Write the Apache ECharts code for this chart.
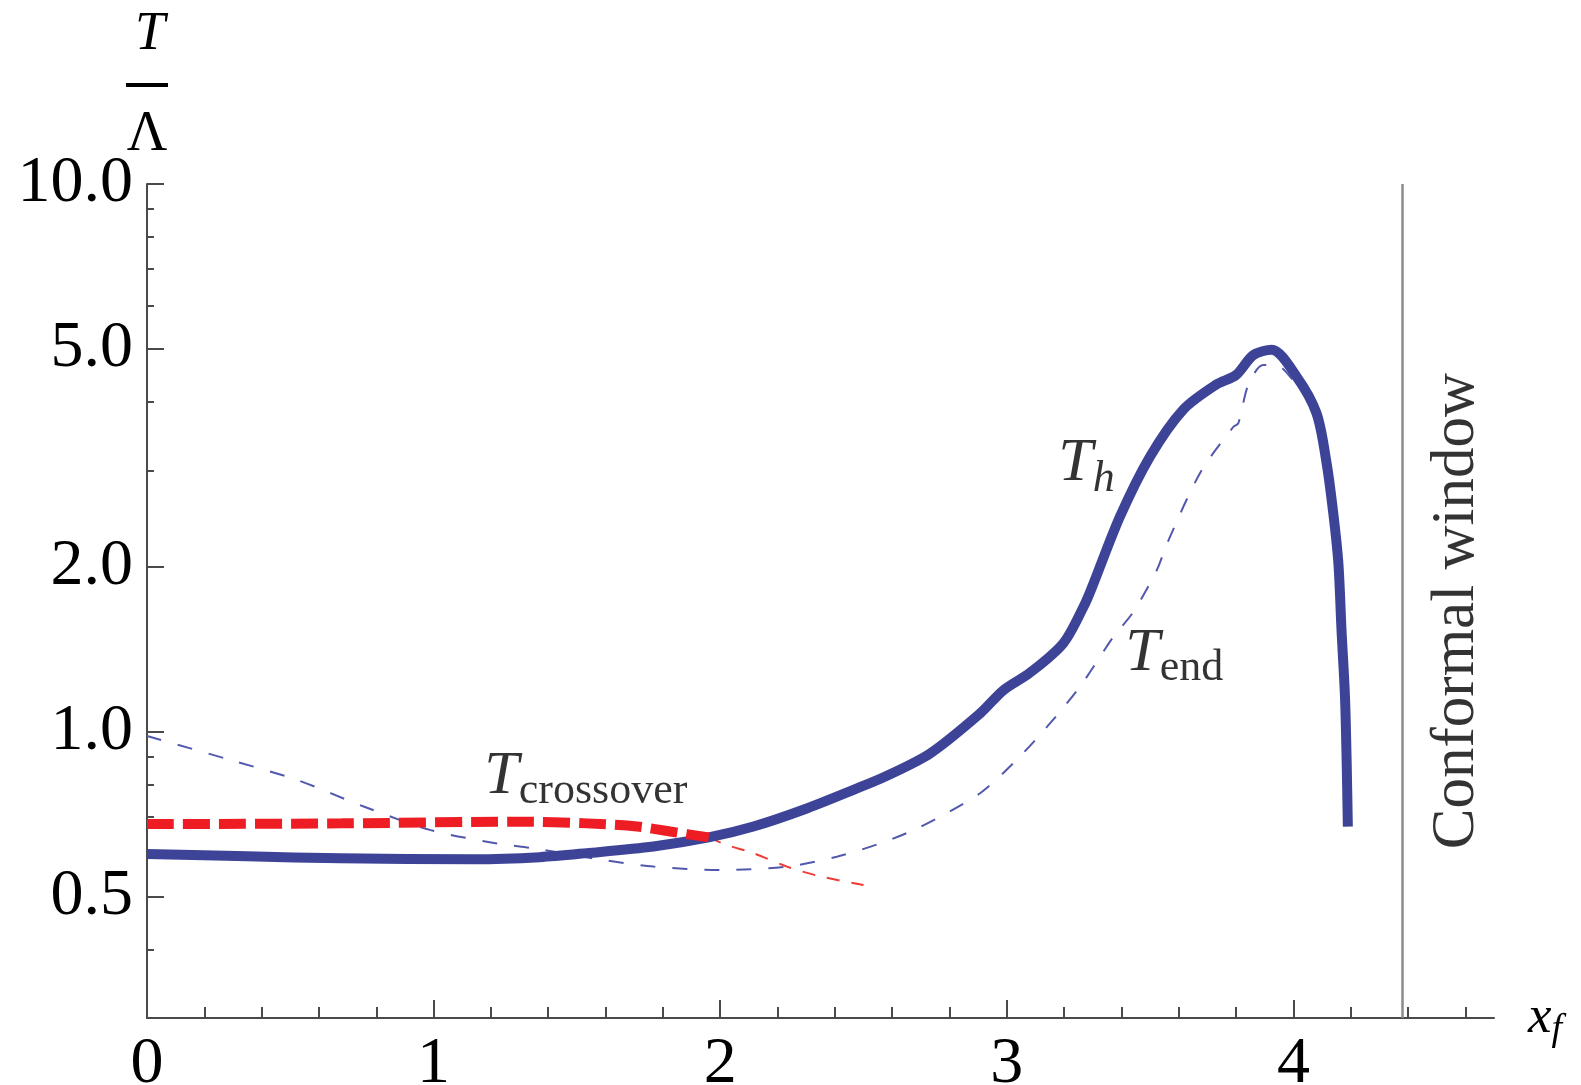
<!DOCTYPE html>
<html>
<head>
<meta charset="utf-8">
<script src="https://cdn.jsdelivr.net/npm/echarts@6/dist/echarts.min.js"></script>
<style>
html,body{margin:0;padding:0;background:#fff;}
#chart{width:1581px;height:1085px;}
</style>
</head>
<body>
<div id="chart"></div>
<script>
// ---- data ----
const xMajorTicks = [0, 1, 2, 3, 4];
const xMinorTicks = [0.2,0.4,0.6,0.8,1.2,1.4,1.6,1.8,2.2,2.4,2.6,2.8,3.2,3.4,3.6,3.8,4.2,4.4,4.6];
const yMajorTicks = [0.5, 1, 2, 5, 10];
const yMinorTicks = [0.4, 0.6, 0.7, 0.8, 0.9, 3, 4, 6, 7, 8, 9];

// T_h (thick solid blue)
const thX = [0, 0.35, 0.675, 1.14, 1.37, 1.535, 1.767, 1.96, 2.116, 2.29, 2.465, 2.58, 2.733, 2.907, 2.988, 3.08, 3.197, 3.27, 3.30, 3.395, 3.50, 3.615, 3.73, 3.80, 3.86, 3.924, 4.011, 4.081, 4.116, 4.139, 4.157, 4.168, 4.18, 4.186, 4.19];
const thY = [0.598, 0.592, 0.587, 0.585, 0.590, 0.600, 0.617, 0.641, 0.671, 0.72, 0.783, 0.83, 0.913, 1.08, 1.19, 1.28, 1.45, 1.70, 1.85, 2.47, 3.18, 3.87, 4.30, 4.48, 4.87, 4.98, 4.45, 3.81, 3.09, 2.51, 2.03, 1.53, 1.16, 0.876, 0.671];

// T_end (thin dashed blue)
const endX = [0, 0.29, 0.524, 0.756, 0.99, 1.221, 1.35, 1.593, 1.767, 2.0, 2.233, 2.407, 2.558, 2.674, 2.79, 2.907, 3.023, 3.14, 3.256, 3.372, 3.44, 3.523, 3.56, 3.675, 3.79, 3.808, 3.843, 3.895, 3.94, 3.988, 4.06, 4.10, 4.13];
const endY = [0.982, 0.888, 0.816, 0.730, 0.661, 0.625, 0.612, 0.583, 0.567, 0.559, 0.567, 0.591, 0.625, 0.661, 0.71, 0.772, 0.876, 1.02, 1.21, 1.49, 1.65, 1.97, 2.21, 2.97, 3.60, 3.66, 4.30, 4.67, 4.67, 4.45, 3.95, 3.30, 2.60];

// T_crossover (thick dashed red, then thin dashed red)
const crossThickX = [0, 0.68, 1.30, 1.535, 1.71, 1.826, 1.96];
const crossThickY = [0.678, 0.680, 0.685, 0.680, 0.671, 0.657, 0.641];
const crossThinX = [1.96, 2.023, 2.116, 2.233, 2.35, 2.50];
const crossThinY = [0.641, 0.621, 0.600, 0.567, 0.544, 0.525];

const conformalEdge = 4.38;

// ---- helpers ----
const zip = (xs, ys) => xs.map((x, i) => [x, ys[i]]);
const SERIF = "'Liberation Serif', 'Times New Roman', serif";
const AXIS_COLOR = '#4a4a4a';

const chart = echarts.init(document.getElementById('chart'), null, {renderer: 'canvas'});

const gridBox = {left: 147, right: 87, top: 184, bottom: 67};

const option = {
  backgroundColor: '#fff',
  animation: false,
  grid: Object.assign({containLabel: false, outerBoundsMode: 'none'}, gridBox),
  xAxis: [
    {
      type: 'value', min: 0, max: 4.7, position: 'bottom',
      name: '{x|x}{f|f}', nameLocation: 'end', nameGap: 34, nameMoveOverlap: false,
      nameTextStyle: {
        verticalAlign: 'middle', align: 'left',
        rich: {
          x: {fontFamily: SERIF, fontStyle: 'italic', fontSize: 53, lineHeight: 62, color: '#000'},
          f: {fontFamily: SERIF, fontStyle: 'italic', fontSize: 38, lineHeight: 36, verticalAlign: 'bottom', color: '#000'}
        }
      },
      axisLine: {show: true, onZero: false, lineStyle: {color: AXIS_COLOR, width: 2}},
      axisTick: {show: true, inside: true, length: 18, lineStyle: {color: AXIS_COLOR, width: 2}, customValues: xMajorTicks},
      axisLabel: {show: true, customValues: xMajorTicks, margin: 14, fontFamily: SERIF, fontSize: 66, color: '#000',
        formatter: v => String(Math.round(v))},
      splitLine: {show: false}
    },
    {
      type: 'value', min: 0, max: 4.7, position: 'bottom', offset: 0,
      axisLine: {show: false},
      axisTick: {show: true, inside: true, length: 11, lineStyle: {color: AXIS_COLOR, width: 2}, customValues: xMinorTicks},
      axisLabel: {show: false},
      splitLine: {show: false}
    }
  ],
  yAxis: [
    {
      type: 'log', logBase: 10, min: 0.3, max: 10, position: 'left',
      name: '{t|T}\n{b| }\n{l|Λ}', nameLocation: 'end', nameGap: 24, nameMoveOverlap: false,
      nameTextStyle: {
        align: 'center', verticalAlign: 'bottom',
        rich: {
          t: {fontFamily: SERIF, fontStyle: 'italic', fontSize: 54, lineHeight: 50, color: '#000', padding: [0, 0, 0, 6]},
          b: {width: 42, height: 4, lineHeight: 50, backgroundColor: '#000', fontSize: 4},
          l: {fontFamily: SERIF, fontSize: 56, lineHeight: 50, color: '#000'}
        }
      },
      axisLine: {show: true, onZero: false, lineStyle: {color: AXIS_COLOR, width: 2}},
      axisTick: {show: true, inside: true, length: 17, lineStyle: {color: AXIS_COLOR, width: 2}, customValues: yMajorTicks},
      axisLabel: {show: true, customValues: yMajorTicks, margin: 14, fontFamily: SERIF, fontSize: 66, color: '#000',
        padding: [0, 0, 14, 0],
        formatter: v => Number(v).toFixed(1)},
      splitLine: {show: false}
    },
    {
      type: 'log', logBase: 10, min: 0.3, max: 10, position: 'left', offset: 0,
      axisLine: {show: false},
      axisTick: {show: true, inside: true, length: 7, lineStyle: {color: AXIS_COLOR, width: 2}, customValues: yMinorTicks},
      axisLabel: {show: false},
      splitLine: {show: false}
    }
  ],
  series: [
    {
      name: 'T_end', type: 'line', xAxisIndex: 0, yAxisIndex: 0,
      data: zip(endX, endY), showSymbol: false, smooth: 0.3,
      lineStyle: {color: '#5259ad', width: 2, type: [15, 17]},
      z: 2
    },
    {
      name: 'T_crossover_thin', type: 'line', xAxisIndex: 0, yAxisIndex: 0,
      data: zip(crossThinX, crossThinY), showSymbol: false, smooth: 0.3,
      lineStyle: {color: '#ef3b36', width: 2, type: [13, 12]},
      z: 2
    },
    {
      name: 'T_h', type: 'line', xAxisIndex: 0, yAxisIndex: 0,
      data: zip(thX, thY), showSymbol: false, smooth: 0.3,
      lineStyle: {color: '#3d4497', width: 10, cap: 'butt', join: 'round'},
      z: 3,
      markLine: {
        silent: true, symbol: ['none', 'none'],
        label: {show: false},
        lineStyle: {color: '#8c8c8c', width: 2.5, type: 'solid'},
        data: [{xAxis: conformalEdge}]
      }
    },
    {
      name: 'T_crossover', type: 'line', xAxisIndex: 0, yAxisIndex: 0,
      data: zip(crossThickX, crossThickY), showSymbol: false, smooth: 0.3,
      lineStyle: {color: '#ee1d23', width: 10, type: [27, 9], cap: 'butt'},
      z: 4
    },
    {
      name: 'labels', type: 'scatter', xAxisIndex: 0, yAxisIndex: 0,
      symbolSize: 0, silent: true, z: 5,
      data: [
        {value: [3.18, 3.08], label: {formatter: '{T|T}{s|h}'}},
        {value: [3.413, 1.39], label: {formatter: '{T|T}{u|end}'}},
        {value: [1.177, 0.829], label: {formatter: '{T|T}{u|crossover}'}}
      ],
      label: {
        show: true, position: 'right', distance: 0, align: 'left', verticalAlign: 'middle',
        rich: {
          T: {fontFamily: SERIF, fontStyle: 'italic', fontSize: 62, lineHeight: 74, color: '#000'},
          s: {fontFamily: SERIF, fontStyle: 'italic', fontSize: 44, lineHeight: 44, verticalAlign: 'bottom', color: '#000'},
          u: {fontFamily: SERIF, fontSize: 44, lineHeight: 44, verticalAlign: 'bottom', color: '#000'}
        }
      }
    },
    {
      name: 'conformal', type: 'scatter', xAxisIndex: 0, yAxisIndex: 0,
      symbolSize: 0, silent: true, z: 5,
      data: [[4.57, 1.66]],
      label: {
        show: true, position: 'inside', rotate: 90, align: 'center', verticalAlign: 'middle',
        formatter: 'Conformal window', fontFamily: SERIF, fontSize: 61, color: '#000'
      }
    }
  ]
};

chart.setOption(option);
</script>
</body>
</html>
